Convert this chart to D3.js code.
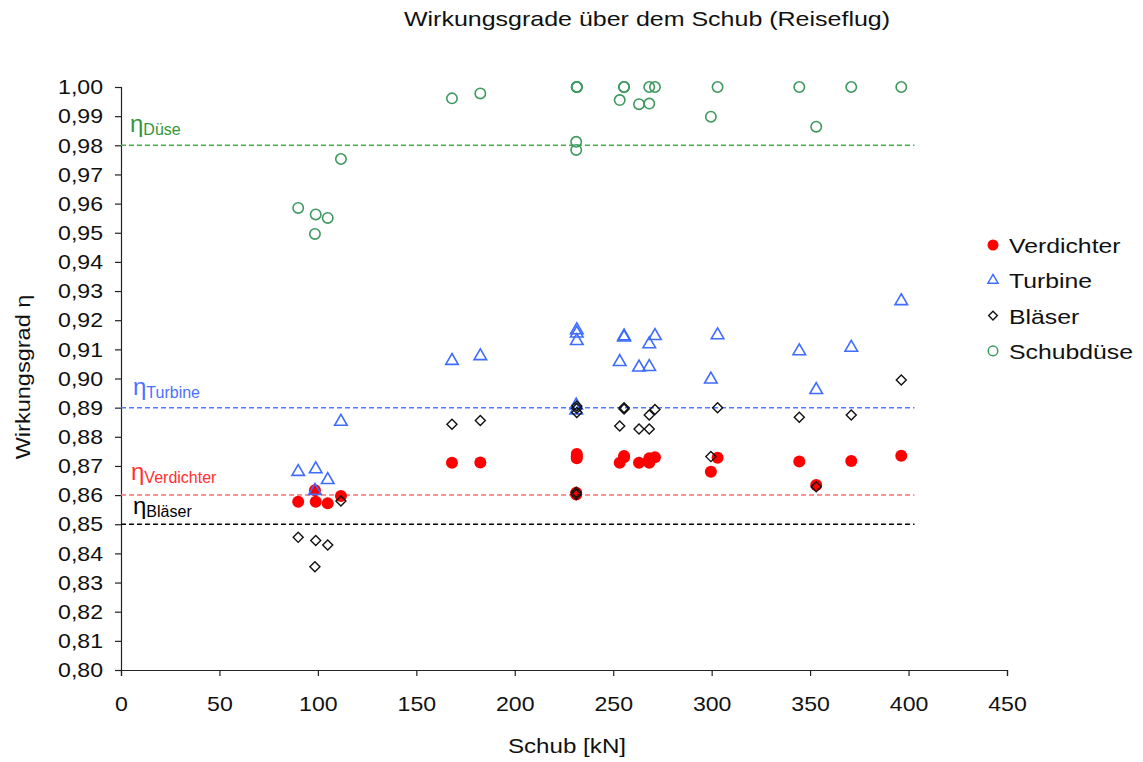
<!DOCTYPE html>
<html>
<head>
<meta charset="utf-8">
<script src="https://cdn.jsdelivr.net/npm/d3@7"></script>
<style>
  body { margin: 0; background: #fff; }
  svg { font-family: "Liberation Sans", Arial, sans-serif; }
</style>
</head>
<body>
<svg width="1143" height="762"></svg>
<script>
// Schub [kN] per Triebwerk
const thrust =     [90, 98.9, 98.5, 105, 111.7, 168.1, 182.5, 231.5, 231.5, 231.5, 231.2, 231.2, 253.3, 255.5, 255.5, 263.1, 268.3, 268.3, 271.2, 299.6, 303.0, 344.5, 353.1, 370.9, 396.3];
const verdichter = [0.8577, 0.8577, 0.8617, 0.8572, 0.8597, 0.8711, 0.8712, 0.8741, 0.8726, 0.8733, 0.8608, 0.8602, 0.8711, 0.8734, 0.8730, 0.8711, 0.8711, 0.8726, 0.8730, 0.8680, 0.8728, 0.8715, 0.8635, 0.8717, 0.8735];
const turbine =    [0.8680, 0.8689, 0.8615, 0.8652, 0.8852, 0.9061, 0.9077, 0.9166, 0.9155, 0.9129, 0.8908, 0.8891, 0.9057, 0.9145, 0.9141, 0.9038, 0.9118, 0.9040, 0.9146, 0.8997, 0.9149, 0.9094, 0.8961, 0.9106, 0.9266];
const blaeser =    [0.8455, 0.8444, 0.8354, 0.8429, 0.8580, 0.8843, 0.8856, 0.8906, 0.8898, 0.8883, 0.8610, 0.8602, 0.8837, 0.8900, 0.8895, 0.8827, 0.8875, 0.8827, 0.8894, 0.8732, 0.8900, 0.8867, 0.8629, 0.8875, 0.8995];
const duese =      [0.9585, 0.9563, 0.9496, 0.9551, 0.9753, 0.9961, 0.9978, 1.0000, 1.0000, 1.0000, 0.9812, 0.9784, 0.9955, 1.0000, 1.0000, 0.9941, 1.0000, 0.9943, 1.0000, 0.9898, 1.0000, 1.0000, 0.9864, 1.0000, 1.0000];

// Auslegungswerte (gestrichelte Linien)
const refNames = ["Düse", "Turbine", "Verdichter", "Bläser"];
const refValues = [0.98, 0.89, 0.86, 0.85];
const refColors = ["#34963a", "#4a72ff", "#ff3030", "#000000"];
const refLineColors = ["#4caf50", "#4f7dff", "#ff7070", "#000000"];
const refEnd = 403;

const seriesNames = ["Verdichter", "Turbine", "Bläser", "Schubdüse"];
const xTicks = [0, 50, 100, 150, 200, 250, 300, 350, 400, 450];

const margin = {top: 87, left: 121},
      width = 886,
      height = 583;

// the original is a bit wider than the font, stretch text horizontally
function widen(sel, k) {
  sel.each(function() {
    const w = this.getComputedTextLength();
    d3.select(this).attr("textLength", w * (k || 1.1)).attr("lengthAdjust", "spacingAndGlyphs");
  });
}

const svg = d3.select("svg");
const chart = svg.append("g")
    .attr("transform", "translate(" + margin.left + "," + margin.top + ")");

const x = d3.scaleLinear().domain([0, 450]).range([0, width]);
const y = d3.scaleLinear().domain([0.8, 1.0]).range([height, 0]);

const comma = d => d3.format(".2f")(d).replace(".", ",");

// Achsen
const yAxis = chart.append("g")
    .call(d3.axisLeft(y).tickValues(d3.range(0, 21).map(i => 0.8 + i / 100)).tickFormat(comma).tickSize(6).tickPadding(12));
const xAxis = chart.append("g")
    .attr("transform", "translate(0," + height + ")")
    .call(d3.axisBottom(x).tickValues(xTicks).tickSize(6).tickPadding(20));

[xAxis, yAxis].forEach(a => {
  a.selectAll("path, line").attr("stroke", "#222").attr("stroke-width", 1.2);
  a.selectAll("text").attr("font-size", 21).attr("fill", "#111")
    .attr("font-family", "Liberation Sans, Arial, sans-serif")
    .call(widen, 1.1);
});

// Referenzlinien
refValues.forEach((v, i) => {
  chart.append("line")
    .attr("x1", x(0)).attr("x2", x(refEnd))
    .attr("y1", y(v)).attr("y2", y(v))
    .attr("stroke", refLineColors[i])
    .attr("stroke-width", 1.5)
    .attr("stroke-dasharray", "5,3");
});

// Beschriftung der Referenzlinien
const refLabelPos = [[9, -13], [12, -13], [10, -15], [12, -10]];
refValues.forEach((v, i) => {
  const t = chart.append("text")
    .attr("x", refLabelPos[i][0])
    .attr("y", y(v) + refLabelPos[i][1])
    .attr("fill", refColors[i]);
  t.append("tspan").attr("font-size", 24).text("η");
  t.append("tspan").attr("font-size", 16).attr("dy", 3).text(refNames[i]);
});

const pts = vals => thrust.map((t, i) => [t, vals[i]]);

// Verdichter
chart.append("g").selectAll("circle")
  .data(pts(verdichter)).enter().append("circle")
  .attr("cx", d => x(d[0])).attr("cy", d => y(d[1]))
  .attr("r", 6).attr("fill", "#ff0000");

// Turbine
const tri = d3.symbol().type(d3.symbolTriangle).size(68);
chart.append("g").selectAll("path")
  .data(pts(turbine)).enter().append("path")
  .attr("d", tri)
  .attr("transform", d => "translate(" + x(d[0]) + "," + y(d[1]) + ")")
  .attr("fill", "none").attr("stroke", "#3f6cff").attr("stroke-width", 1.6);

// Bläser
const dia = d3.symbol().type(d3.symbolDiamond2).size(64);
chart.append("g").selectAll("path")
  .data(pts(blaeser)).enter().append("path")
  .attr("d", dia)
  .attr("transform", d => "translate(" + x(d[0]) + "," + y(d[1]) + ")")
  .attr("fill", "none").attr("stroke", "#111").attr("stroke-width", 1.4);

// Schubdüse
chart.append("g").selectAll("circle")
  .data(pts(duese)).enter().append("circle")
  .attr("cx", d => x(d[0])).attr("cy", d => y(d[1]))
  .attr("r", 5.2).attr("fill", "none")
  .attr("stroke", "#3d9a5e").attr("stroke-width", 1.6);

// Titel und Achsentitel
svg.append("text")
  .attr("x", 647).attr("y", 26)
  .attr("text-anchor", "middle").attr("font-size", 21).attr("fill", "#111")
  .text("Wirkungsgrade über dem Schub (Reiseflug)")
  .call(widen, 1.19);

svg.append("text")
  .attr("x", 567).attr("y", 753)
  .attr("text-anchor", "middle").attr("font-size", 21).attr("fill", "#111")
  .text("Schub [kN]")
  .call(widen, 1.15);

svg.append("text")
  .attr("transform", "translate(30,377) rotate(-90)")
  .attr("text-anchor", "middle").attr("font-size", 21).attr("fill", "#111")
  .text("Wirkungsgrad η")
  .call(widen, 1.12);

// Legende
const legend = svg.append("g").attr("transform", "translate(993,245)");
seriesNames.forEach((name, i) => {
  const g = legend.append("g").attr("transform", "translate(0," + i * 35.3 + ")");
  if (i === 0) g.append("circle").attr("r", 5.5).attr("fill", "#ff0000");
  if (i === 1) g.append("path").attr("d", d3.symbol().type(d3.symbolTriangle).size(45))
    .attr("fill", "none").attr("stroke", "#3f6cff").attr("stroke-width", 1.5);
  if (i === 2) g.append("path").attr("d", d3.symbol().type(d3.symbolDiamond2).size(48))
    .attr("fill", "none").attr("stroke", "#111").attr("stroke-width", 1.4);
  if (i === 3) g.append("circle").attr("r", 4.8).attr("fill", "none")
    .attr("stroke", "#3d9a5e").attr("stroke-width", 1.5);
  g.append("text").attr("x", 16).attr("y", 8)
    .attr("font-size", 21).attr("fill", "#111").text(name)
    .call(widen, 1.18);
});
</script>
</body>
</html>
